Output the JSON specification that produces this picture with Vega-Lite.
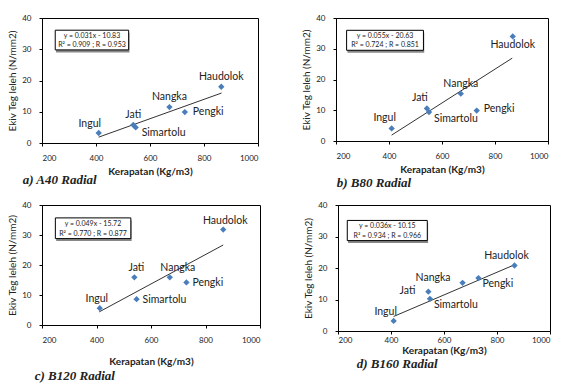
{
  "$schema": "https://vega.github.io/schema/vega-lite/v6.json",
  "background": "white",
  "padding": {"left": 7, "top": 13, "right": 0, "bottom": 0},
  "config": {
    "view": {"stroke": "black", "strokeWidth": 1},
    "axis": {"labelFont": "Lato", "labelFontSize": 8, "labelColor": "#222", "titleFont": "Lato", "titleFontSize": 10, "titleColor": "#222", "domainColor": "black", "tickColor": "black", "tickSize": 3, "grid": false, "labelOverlap": false, "tickCount": 5},
    "axisX": {"labelPadding": 8, "titlePadding": 4, "titleFontWeight": "bold", "format": "d"},
    "axisY": {"labelPadding": 8, "titlePadding": 4, "titleFontWeight": "normal"},
    "title": {"font": "Liberation Serif", "fontSize": 13, "fontStyle": "italic", "fontWeight": "bold", "color": "#222"},
    "text": {"font": "Lato", "fontSize": 10.5, "color": "#222"}
  },
  "datasets": {
    "pts": [
      {"panel": "a", "name": "Ingul", "x": 410, "y": 3.2, "pos": "tl"},
      {"panel": "a", "name": "Jati", "x": 538, "y": 5.8, "pos": "t"},
      {"panel": "a", "name": "Simartolu", "x": 547, "y": 5.0, "pos": "br"},
      {"panel": "a", "name": "Nangka", "x": 672, "y": 11.5, "pos": "t"},
      {"panel": "a", "name": "Pengki", "x": 729, "y": 9.9, "pos": "r"},
      {"panel": "a", "name": "Haudolok", "x": 864, "y": 18.0, "pos": "t"},
      {"panel": "b", "name": "Ingul", "x": 410, "y": 4.1, "pos": "tl"},
      {"panel": "b", "name": "Jati", "x": 543, "y": 10.6, "pos": "tl"},
      {"panel": "b", "name": "Simartolu", "x": 551, "y": 9.4, "pos": "br"},
      {"panel": "b", "name": "Nangka", "x": 671, "y": 15.4, "pos": "t"},
      {"panel": "b", "name": "Pengki", "x": 731, "y": 9.9, "pos": "r"},
      {"panel": "b", "name": "Haudolok", "x": 867, "y": 34.0, "pos": "b"},
      {"panel": "c", "name": "Ingul", "x": 412, "y": 5.6, "pos": "tl"},
      {"panel": "c", "name": "Jati", "x": 539, "y": 15.9, "pos": "t"},
      {"panel": "c", "name": "Simartolu", "x": 547, "y": 8.6, "pos": "r"},
      {"panel": "c", "name": "Nangka", "x": 669, "y": 15.9, "pos": "tr"},
      {"panel": "c", "name": "Pengki", "x": 730, "y": 14.2, "pos": "r"},
      {"panel": "c", "name": "Haudolok", "x": 865, "y": 31.8, "pos": "t"},
      {"panel": "d", "name": "Ingul", "x": 410, "y": 3.2, "pos": "tl"},
      {"panel": "d", "name": "Jati", "x": 541, "y": 12.5, "pos": "l"},
      {"panel": "d", "name": "Simartolu", "x": 547, "y": 10.2, "pos": "br"},
      {"panel": "d", "name": "Nangka", "x": 670, "y": 15.3, "pos": "ul"},
      {"panel": "d", "name": "Pengki", "x": 730, "y": 16.8, "pos": "br"},
      {"panel": "d", "name": "Haudolok", "x": 866, "y": 20.8, "pos": "tl"}
    ],
    "trend": [
      {"panel": "a", "x1": 410, "y1": 1.88, "x2": 865, "y2": 15.99},
      {"panel": "b", "x1": 410, "y1": 1.92, "x2": 865, "y2": 26.95},
      {"panel": "c", "x1": 410, "y1": 4.37, "x2": 865, "y2": 26.67},
      {"panel": "d", "x1": 410, "y1": 4.61, "x2": 865, "y2": 20.99}
    ],
    "eq": [
      {"panel": "a", "l1": "y = 0.031x - 10.83", "l2": "R² = 0.909 ; R = 0.953"},
      {"panel": "b", "l1": "y = 0.055x - 20.63", "l2": "R² = 0.724 ; R = 0.851"},
      {"panel": "c", "l1": "y = 0.049x - 15.72", "l2": "R² = 0.770 ; R = 0.877"},
      {"panel": "d", "l1": "y = 0.036x - 10.15", "l2": "R² = 0.934 ; R = 0.966"}
    ]
  },
  "spacing": 9,
  "vconcat": [
    {
      "spacing": 42,
      "hconcat": [
        {
          "width": 216, "height": 125,
          "title": {"text": "a) A40 Radial", "orient": "bottom", "anchor": "start", "dx": 15, "offset": -2},
          "layer": [
            {"data": {"name": "eq"}, "transform": [{"filter": "datum.panel == 'a'"}], "mark": {"type": "rect", "fill": "#888"},
             "encoding": {"x": {"datum": 252, "type": "quantitative", "scale": {"domain": [200, 1000]}, "axis": {"values": [200, 400, 600, 800, 1000], "title": "Kerapatan (Kg/m3)"}}, "x2": {"datum": 524}, "y": {"datum": 35.3, "type": "quantitative", "scale": {"domain": [0, 40]}, "axis": {"values": [0, 10, 20, 30, 40], "title": "Ekiv Teg leleh (N/mm2)"}}, "y2": {"datum": 29.0}}},
            {"data": {"name": "eq"}, "transform": [{"filter": "datum.panel == 'a'"}], "mark": {"type": "rect", "fill": "white", "stroke": "black", "strokeWidth": 1},
             "encoding": {"x": {"datum": 249, "type": "quantitative"}, "x2": {"datum": 521}, "y": {"datum": 36.1}, "y2": {"datum": 29.8}}},
            {"data": {"name": "eq"}, "transform": [{"filter": "datum.panel == 'a'"}], "mark": {"type": "text", "fontSize": 7, "align": "center", "baseline": "middle"},
             "encoding": {"x": {"datum": 385, "type": "quantitative"}, "y": {"datum": 34.3}, "text": {"field": "l1"}}},
            {"data": {"name": "eq"}, "transform": [{"filter": "datum.panel == 'a'"}], "mark": {"type": "text", "fontSize": 7, "align": "center", "baseline": "middle"},
             "encoding": {"x": {"datum": 385, "type": "quantitative"}, "y": {"datum": 31.4}, "text": {"field": "l2"}}},
            {"data": {"name": "trend"}, "transform": [{"filter": "datum.panel == 'a'"}], "mark": {"type": "rule", "color": "#333", "strokeWidth": 1},
             "encoding": {"x": {"field": "x1", "type": "quantitative"}, "y": {"field": "y1", "type": "quantitative"}, "x2": {"field": "x2"}, "y2": {"field": "y2"}}},
            {"data": {"name": "pts"}, "transform": [{"filter": "datum.panel == 'a'"}], "mark": {"type": "point", "shape": "diamond", "filled": true, "size": 40, "color": "#4a7ebb", "opacity": 1},
             "encoding": {"x": {"field": "x", "type": "quantitative"}, "y": {"field": "y", "type": "quantitative"}}},
            {"data": {"name": "pts"}, "transform": [{"filter": "datum.panel == 'a' && datum.pos == 't'"}], "mark": {"type": "text", "align": "center", "baseline": "bottom", "dy": -5},
             "encoding": {"x": {"field": "x", "type": "quantitative"}, "y": {"field": "y", "type": "quantitative"}, "text": {"field": "name"}}},
            {"data": {"name": "pts"}, "transform": [{"filter": "datum.panel == 'a' && datum.pos == 'tl'"}], "mark": {"type": "text", "align": "center", "baseline": "bottom", "dx": -9, "dy": -4},
             "encoding": {"x": {"field": "x", "type": "quantitative"}, "y": {"field": "y", "type": "quantitative"}, "text": {"field": "name"}}},
            {"data": {"name": "pts"}, "transform": [{"filter": "datum.panel == 'a' && datum.pos == 'br'"}], "mark": {"type": "text", "align": "left", "baseline": "middle", "dx": 6, "dy": 6},
             "encoding": {"x": {"field": "x", "type": "quantitative"}, "y": {"field": "y", "type": "quantitative"}, "text": {"field": "name"}}},
            {"data": {"name": "pts"}, "transform": [{"filter": "datum.panel == 'a' && datum.pos == 'r'"}], "mark": {"type": "text", "align": "left", "baseline": "middle", "dx": 8},
             "encoding": {"x": {"field": "x", "type": "quantitative"}, "y": {"field": "y", "type": "quantitative"}, "text": {"field": "name"}}}
          ]
        },
        {
          "width": 212, "height": 123,
          "title": {"text": "b) B80 Radial", "orient": "bottom", "anchor": "start", "dx": 35, "offset": 3},
          "layer": [
            {"data": {"name": "eq"}, "transform": [{"filter": "datum.panel == 'b'"}], "mark": {"type": "rect", "fill": "#888"},
             "encoding": {"x": {"datum": 243, "type": "quantitative", "scale": {"domain": [200, 1000]}, "axis": {"values": [200, 400, 600, 800, 1000], "title": "Kerapatan (Kg/m3)"}}, "x2": {"datum": 533}, "y": {"datum": 35.2, "type": "quantitative", "scale": {"domain": [0, 40]}, "axis": {"values": [0, 10, 20, 30, 40], "title": "Ekiv Teg leleh (N/mm2)"}}, "y2": {"datum": 28.7}}},
            {"data": {"name": "eq"}, "transform": [{"filter": "datum.panel == 'b'"}], "mark": {"type": "rect", "fill": "white", "stroke": "black", "strokeWidth": 1},
             "encoding": {"x": {"datum": 240, "type": "quantitative"}, "x2": {"datum": 530}, "y": {"datum": 36.0}, "y2": {"datum": 29.5}}},
            {"data": {"name": "eq"}, "transform": [{"filter": "datum.panel == 'b'"}], "mark": {"type": "text", "fontSize": 7, "align": "center", "baseline": "middle"},
             "encoding": {"x": {"datum": 385, "type": "quantitative"}, "y": {"datum": 34.3}, "text": {"field": "l1"}}},
            {"data": {"name": "eq"}, "transform": [{"filter": "datum.panel == 'b'"}], "mark": {"type": "text", "fontSize": 7, "align": "center", "baseline": "middle"},
             "encoding": {"x": {"datum": 385, "type": "quantitative"}, "y": {"datum": 31.2}, "text": {"field": "l2"}}},
            {"data": {"name": "trend"}, "transform": [{"filter": "datum.panel == 'b'"}], "mark": {"type": "rule", "color": "#333", "strokeWidth": 1},
             "encoding": {"x": {"field": "x1", "type": "quantitative"}, "y": {"field": "y1", "type": "quantitative"}, "x2": {"field": "x2"}, "y2": {"field": "y2"}}},
            {"data": {"name": "pts"}, "transform": [{"filter": "datum.panel == 'b'"}], "mark": {"type": "point", "shape": "diamond", "filled": true, "size": 40, "color": "#4a7ebb", "opacity": 1},
             "encoding": {"x": {"field": "x", "type": "quantitative"}, "y": {"field": "y", "type": "quantitative"}}},
            {"data": {"name": "pts"}, "transform": [{"filter": "datum.panel == 'b' && datum.pos == 't'"}], "mark": {"type": "text", "align": "center", "baseline": "bottom", "dy": -5},
             "encoding": {"x": {"field": "x", "type": "quantitative"}, "y": {"field": "y", "type": "quantitative"}, "text": {"field": "name"}}},
            {"data": {"name": "pts"}, "transform": [{"filter": "datum.panel == 'b' && datum.pos == 'tl'"}], "mark": {"type": "text", "align": "center", "baseline": "bottom", "dx": -7, "dy": -5},
             "encoding": {"x": {"field": "x", "type": "quantitative"}, "y": {"field": "y", "type": "quantitative"}, "text": {"field": "name"}}},
            {"data": {"name": "pts"}, "transform": [{"filter": "datum.panel == 'b' && datum.pos == 'br'"}], "mark": {"type": "text", "align": "left", "baseline": "middle", "dx": 5, "dy": 7},
             "encoding": {"x": {"field": "x", "type": "quantitative"}, "y": {"field": "y", "type": "quantitative"}, "text": {"field": "name"}}},
            {"data": {"name": "pts"}, "transform": [{"filter": "datum.panel == 'b' && datum.pos == 'r'"}], "mark": {"type": "text", "align": "left", "baseline": "middle", "dx": 7, "dy": -2},
             "encoding": {"x": {"field": "x", "type": "quantitative"}, "y": {"field": "y", "type": "quantitative"}, "text": {"field": "name"}}},
            {"data": {"name": "pts"}, "transform": [{"filter": "datum.panel == 'b' && datum.pos == 'b'"}], "mark": {"type": "text", "align": "center", "baseline": "top", "dy": 4},
             "encoding": {"x": {"field": "x", "type": "quantitative"}, "y": {"field": "y", "type": "quantitative"}, "text": {"field": "name"}}}
          ]
        }
      ]
    },
    {
      "spacing": 42,
      "hconcat": [
        {
          "width": 218, "height": 120,
          "title": {"text": "c) B120 Radial", "orient": "bottom", "anchor": "start", "dx": 27, "offset": 4},
          "layer": [
            {"data": {"name": "eq"}, "transform": [{"filter": "datum.panel == 'c'"}], "mark": {"type": "rect", "fill": "#888"},
             "encoding": {"x": {"datum": 252, "type": "quantitative", "scale": {"domain": [200, 1000]}, "axis": {"values": [200, 400, 600, 800, 1000], "title": "Kerapatan (Kg/m3)", "titlePadding": 12}}, "x2": {"datum": 529}, "y": {"datum": 34.9, "type": "quantitative", "scale": {"domain": [0, 40]}, "axis": {"values": [0, 10, 20, 30, 40], "title": "Ekiv Teg leleh (N/mm2)"}}, "y2": {"datum": 28.0}}},
            {"data": {"name": "eq"}, "transform": [{"filter": "datum.panel == 'c'"}], "mark": {"type": "rect", "fill": "white", "stroke": "black", "strokeWidth": 1},
             "encoding": {"x": {"datum": 249, "type": "quantitative"}, "x2": {"datum": 526}, "y": {"datum": 35.7}, "y2": {"datum": 28.8}}},
            {"data": {"name": "eq"}, "transform": [{"filter": "datum.panel == 'c'"}], "mark": {"type": "text", "fontSize": 7, "align": "center", "baseline": "middle"},
             "encoding": {"x": {"datum": 387, "type": "quantitative"}, "y": {"datum": 33.6}, "text": {"field": "l1"}}},
            {"data": {"name": "eq"}, "transform": [{"filter": "datum.panel == 'c'"}], "mark": {"type": "text", "fontSize": 7, "align": "center", "baseline": "middle"},
             "encoding": {"x": {"datum": 387, "type": "quantitative"}, "y": {"datum": 30.5}, "text": {"field": "l2"}}},
            {"data": {"name": "trend"}, "transform": [{"filter": "datum.panel == 'c'"}], "mark": {"type": "rule", "color": "#333", "strokeWidth": 1},
             "encoding": {"x": {"field": "x1", "type": "quantitative"}, "y": {"field": "y1", "type": "quantitative"}, "x2": {"field": "x2"}, "y2": {"field": "y2"}}},
            {"data": {"name": "pts"}, "transform": [{"filter": "datum.panel == 'c'"}], "mark": {"type": "point", "shape": "diamond", "filled": true, "size": 40, "color": "#4a7ebb", "opacity": 1},
             "encoding": {"x": {"field": "x", "type": "quantitative"}, "y": {"field": "y", "type": "quantitative"}}},
            {"data": {"name": "pts"}, "transform": [{"filter": "datum.panel == 'c' && datum.pos == 't'"}], "mark": {"type": "text", "align": "center", "baseline": "bottom", "dx": 2, "dy": -4},
             "encoding": {"x": {"field": "x", "type": "quantitative"}, "y": {"field": "y", "type": "quantitative"}, "text": {"field": "name"}}},
            {"data": {"name": "pts"}, "transform": [{"filter": "datum.panel == 'c' && datum.pos == 'tl'"}], "mark": {"type": "text", "align": "center", "baseline": "bottom", "dx": -3, "dy": -4},
             "encoding": {"x": {"field": "x", "type": "quantitative"}, "y": {"field": "y", "type": "quantitative"}, "text": {"field": "name"}}},
            {"data": {"name": "pts"}, "transform": [{"filter": "datum.panel == 'c' && datum.pos == 'tr'"}], "mark": {"type": "text", "align": "center", "baseline": "bottom", "dx": 8, "dy": -4},
             "encoding": {"x": {"field": "x", "type": "quantitative"}, "y": {"field": "y", "type": "quantitative"}, "text": {"field": "name"}}},
            {"data": {"name": "pts"}, "transform": [{"filter": "datum.panel == 'c' && datum.pos == 'r'"}], "mark": {"type": "text", "align": "left", "baseline": "middle", "dx": 6, "dy": 1},
             "encoding": {"x": {"field": "x", "type": "quantitative"}, "y": {"field": "y", "type": "quantitative"}, "text": {"field": "name"}}}
          ]
        },
        {
          "width": 212, "height": 126,
          "title": {"text": "d) B160 Radial", "orient": "bottom", "anchor": "start", "dx": 53, "offset": 3},
          "layer": [
            {"data": {"name": "eq"}, "transform": [{"filter": "datum.panel == 'd'"}], "mark": {"type": "rect", "fill": "#888"},
             "encoding": {"x": {"datum": 238, "type": "quantitative", "scale": {"domain": [200, 1000]}, "axis": {"values": [200, 400, 600, 800, 1000], "title": "Kerapatan (Kg/m3)", "titlePadding": 1, "labelPadding": 2}}, "x2": {"datum": 540}, "y": {"datum": 34.3, "type": "quantitative", "scale": {"domain": [0, 40]}, "axis": {"values": [0, 10, 20, 30, 40], "title": "Ekiv Teg leleh (N/mm2)"}}, "y2": {"datum": 27.9}}},
            {"data": {"name": "eq"}, "transform": [{"filter": "datum.panel == 'd'"}], "mark": {"type": "rect", "fill": "white", "stroke": "black", "strokeWidth": 1},
             "encoding": {"x": {"datum": 235, "type": "quantitative"}, "x2": {"datum": 537}, "y": {"datum": 35.1}, "y2": {"datum": 28.7}}},
            {"data": {"name": "eq"}, "transform": [{"filter": "datum.panel == 'd'"}], "mark": {"type": "text", "fontSize": 7, "align": "center", "baseline": "middle"},
             "encoding": {"x": {"datum": 386, "type": "quantitative"}, "y": {"datum": 33.4}, "text": {"field": "l1"}}},
            {"data": {"name": "eq"}, "transform": [{"filter": "datum.panel == 'd'"}], "mark": {"type": "text", "fontSize": 7, "align": "center", "baseline": "middle"},
             "encoding": {"x": {"datum": 386, "type": "quantitative"}, "y": {"datum": 30.3}, "text": {"field": "l2"}}},
            {"data": {"name": "trend"}, "transform": [{"filter": "datum.panel == 'd'"}], "mark": {"type": "rule", "color": "#333", "strokeWidth": 1},
             "encoding": {"x": {"field": "x1", "type": "quantitative"}, "y": {"field": "y1", "type": "quantitative"}, "x2": {"field": "x2"}, "y2": {"field": "y2"}}},
            {"data": {"name": "pts"}, "transform": [{"filter": "datum.panel == 'd'"}], "mark": {"type": "point", "shape": "diamond", "filled": true, "size": 40, "color": "#4a7ebb", "opacity": 1},
             "encoding": {"x": {"field": "x", "type": "quantitative"}, "y": {"field": "y", "type": "quantitative"}}},
            {"data": {"name": "pts"}, "transform": [{"filter": "datum.panel == 'd' && datum.pos == 'tl'"}], "mark": {"type": "text", "align": "center", "baseline": "bottom", "dx": -8, "dy": -4},
             "encoding": {"x": {"field": "x", "type": "quantitative"}, "y": {"field": "y", "type": "quantitative"}, "text": {"field": "name"}}},
            {"data": {"name": "pts"}, "transform": [{"filter": "datum.panel == 'd' && datum.pos == 'l'"}], "mark": {"type": "text", "align": "right", "baseline": "middle", "dx": -13, "dy": -1},
             "encoding": {"x": {"field": "x", "type": "quantitative"}, "y": {"field": "y", "type": "quantitative"}, "text": {"field": "name"}}},
            {"data": {"name": "pts"}, "transform": [{"filter": "datum.panel == 'd' && datum.pos == 'ul'"}], "mark": {"type": "text", "align": "right", "baseline": "middle", "dx": -12, "dy": -5},
             "encoding": {"x": {"field": "x", "type": "quantitative"}, "y": {"field": "y", "type": "quantitative"}, "text": {"field": "name"}}},
            {"data": {"name": "pts"}, "transform": [{"filter": "datum.panel == 'd' && datum.pos == 'br'"}], "mark": {"type": "text", "align": "left", "baseline": "middle", "dx": 4, "dy": 6},
             "encoding": {"x": {"field": "x", "type": "quantitative"}, "y": {"field": "y", "type": "quantitative"}, "text": {"field": "name"}}}
          ]
        }
      ]
    }
  ]
}
